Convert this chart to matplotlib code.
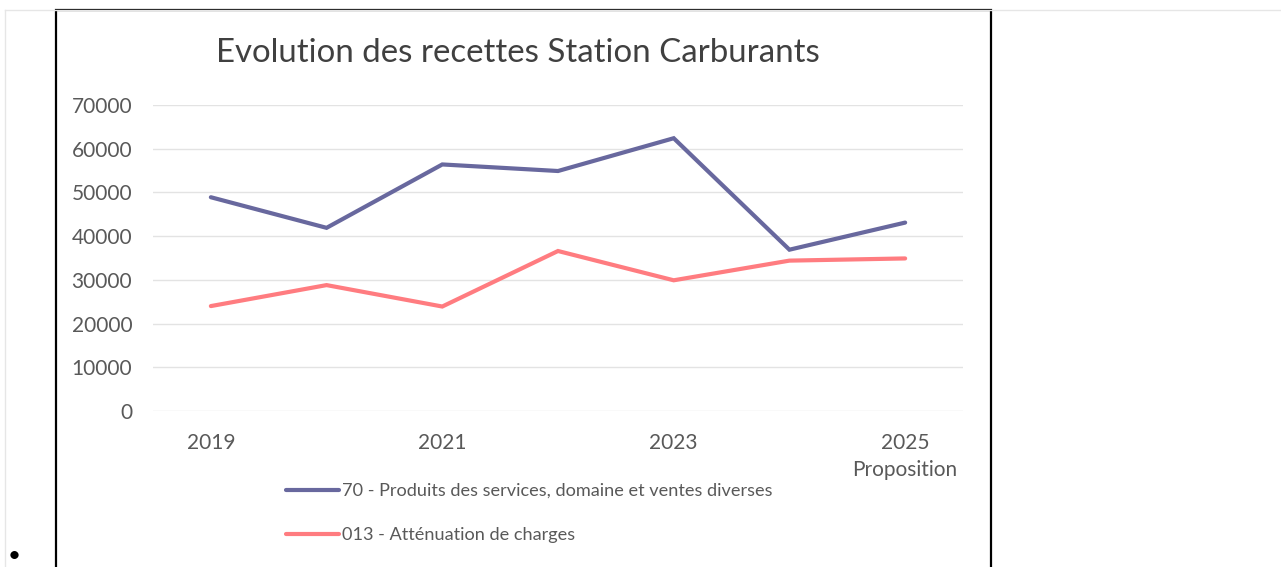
#!/usr/bin/env python3
# -*- coding: utf-8 -*-

import matplotlib
matplotlib.use("Agg")
import matplotlib.pyplot as plt
from matplotlib.patches import Rectangle
from matplotlib.lines import Line2D

# données
years = ["2019", "2020", "2021", "2022", "2023", "2024", "2025\nProposition"]
produits_services = [48900, 41900, 56400, 54900, 62400, 36900, 43100]
attenuation_charges = [24000, 28800, 23900, 36600, 29900, 34400, 34900]
series_labels = ["70 - Produits des services, domaine et ventes diverses",
                 "013 - Atténuation de charges"]
yticks = [0, 10000, 20000, 30000, 40000, 50000, 60000, 70000]

PURPLE = "#68689e"
PINK = "#ff7c80"
TXT = "#595959"
GRID = "#e3e3e3"

W, H = 1281, 567
plt.rcParams["font.family"] = ["Lato", "DejaVu Sans"]

fig = plt.figure(figsize=(W / 100, H / 100), dpi=100)
fig.patch.set_facecolor("white")

# zone de tracé (en pixels de l'image)
x0, x1, y_top, y_bot = 153, 963, 105, 411
ax = fig.add_axes([x0 / W, 1 - y_bot / H, (x1 - x0) / W, (y_bot - y_top) / H])

x = list(range(len(years)))
ax.plot(x, produits_services, color=PURPLE, lw=3, solid_capstyle="round",
        solid_joinstyle="miter", label=series_labels[0])
ax.plot(x, attenuation_charges, color=PINK, lw=3, solid_capstyle="round",
        solid_joinstyle="miter", label=series_labels[1])

ax.set_xlim(-0.5, len(years) - 0.5)
ax.set_ylim(0, 70000)
ax.set_yticks(yticks)
ax.set_yticklabels([str(v) for v in yticks])
ax.set_xticks(x[::2])
ax.set_xticklabels(years[::2], linespacing=1.45)
ax.tick_params(axis="both", length=0, colors=TXT, labelsize=15)
ax.tick_params(axis="y", pad=15)
ax.tick_params(axis="x", pad=16)
ax.grid(axis="y", color=GRID, lw=1)
ax.set_axisbelow(True)
for s in ax.spines.values():
    s.set_visible(False)

fig.text(518 / W, 1 - 53 / H, "Evolution des recettes Station Carburants",
         ha="center", va="center", fontsize=23.8, color="#404040")

# légende
handles = [Line2D([], [], color=PURPLE, lw=3, solid_capstyle="round"),
           Line2D([], [], color=PINK, lw=3, solid_capstyle="round")]
fig.legend(handles, series_labels, loc="upper left",
           bbox_to_anchor=(277 / W, 1 - 474 / H), frameon=False,
           fontsize=13.1, labelcolor=TXT, handlelength=2.9,
           handletextpad=0.15, labelspacing=1.55, borderpad=0)

# cadres autour du graphique
fig.add_artist(Line2D([5 / W, 1], [1 - 10 / H, 1 - 10 / H], color="#e6e6e6",
                      lw=1, transform=fig.transFigure))
fig.add_artist(Line2D([5 / W, 5 / W], [0, 1 - 10 / H], color="#e6e6e6",
                      lw=1, transform=fig.transFigure))
fig.add_artist(Rectangle((56 / W, -0.1), (991 - 56) / W, 1.1 - 10 / H,
                         transform=fig.transFigure, fill=False,
                         edgecolor="black", lw=1.6))
fig.text(14 / W, 1 - 556 / H, "•", ha="center", va="center",
         fontsize=16, color="black")

fig.savefig("out.png", dpi=100)
